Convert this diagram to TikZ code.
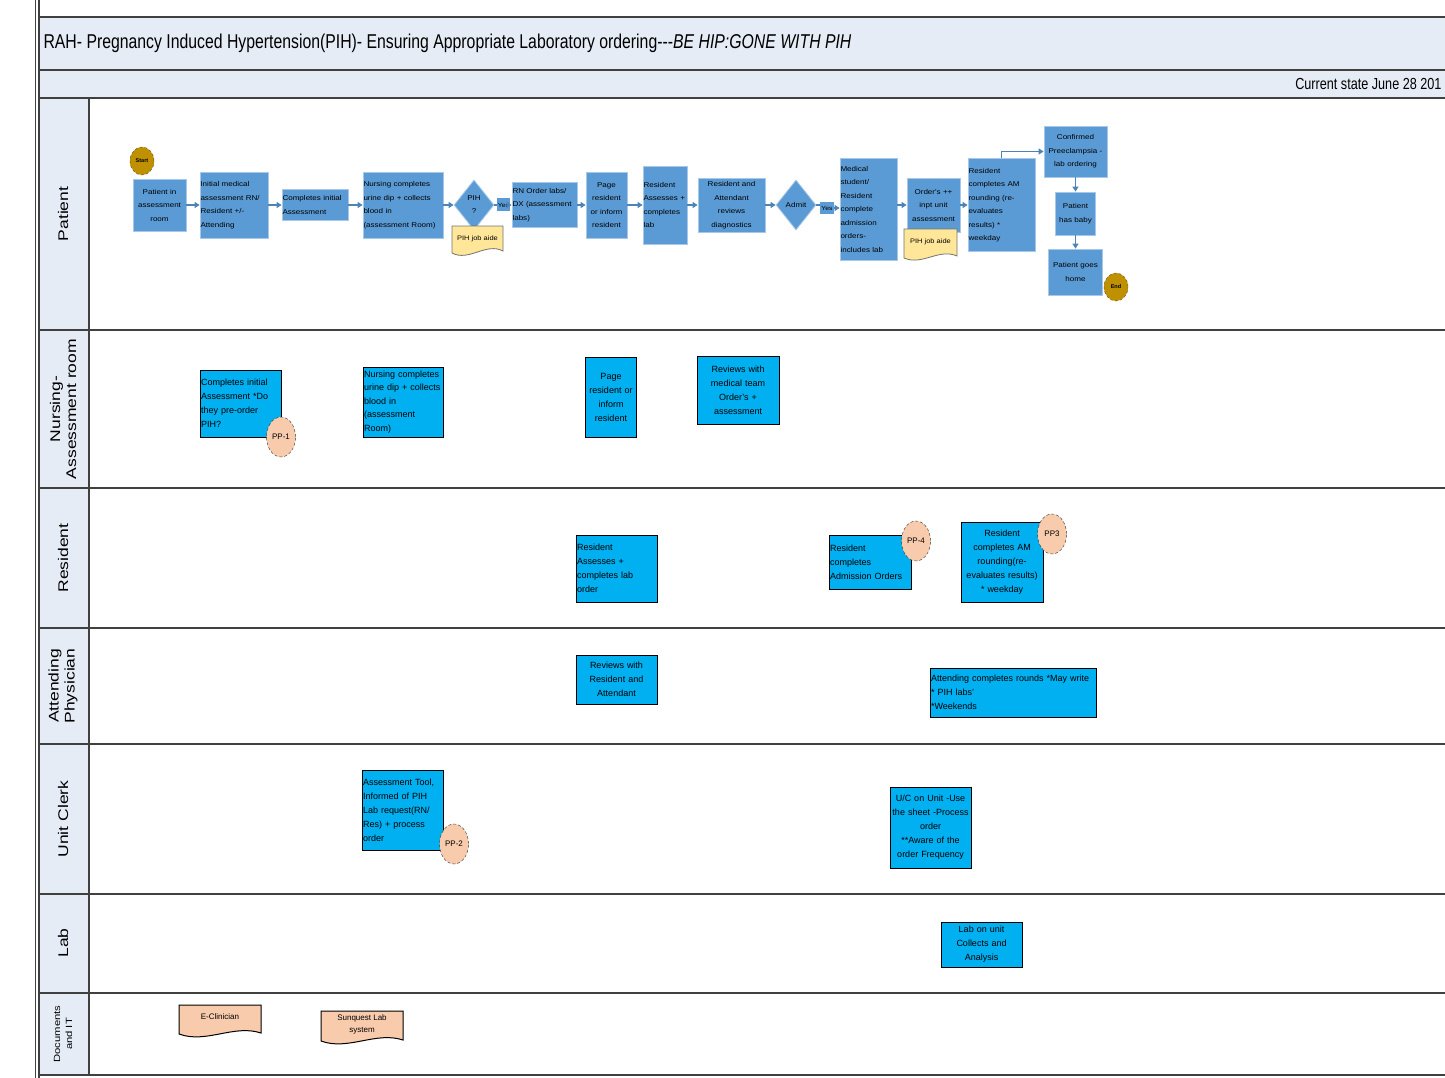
\documentclass[tikz,border=0pt]{standalone}
\usepackage{fontspec}
\setmainfont{Liberation Sans}
\newfontfamily\titlefont[FakeStretch=0.79]{Liberation Sans}
\newfontfamily\lanefont[FakeStretch=1.25]{Liberation Sans}
\newfontfamily\stepfont[FakeStretch=1.15]{Liberation Sans}
\usetikzlibrary{shapes.geometric,arrows.meta}
\definecolor{bandfill}{HTML}{E6ECF6}
\definecolor{stepblue}{HTML}{5B9BD5}
\definecolor{stepedge}{HTML}{A9C8E8}
\definecolor{taskcyan}{HTML}{00B0F0}
\definecolor{aidyellow}{HTML}{FFE699}
\definecolor{peach}{HTML}{F8CBAD}
\definecolor{gold}{HTML}{BF9000}
\definecolor{laneline}{HTML}{404040}

\begin{document}
\begin{tikzpicture}[x=1pt,y=-1pt,
  lane/.style={draw=laneline, line width=1.4pt},
  stepbox/.style={rectangle, draw=stepedge, line width=0.8pt, fill=stepblue, inner xsep=0.5pt, inner ysep=1pt, font=\stepfont\fontsize{7}{13.5}\selectfont},
  taskbox/.style={rectangle, draw=black, line width=1pt, fill=taskcyan, inner xsep=1pt, inner ysep=1pt, font=\fontsize{9}{14}\selectfont},
  choice/.style={diamond, draw=stepedge, line width=0.8pt, fill=stepblue, inner sep=0pt, minimum width=40pt, minimum height=50pt, align=center, font=\stepfont\fontsize{7}{13}\selectfont},
  yesbox/.style={rectangle, fill=stepblue, inner sep=0pt, minimum width=13pt, minimum height=13pt, font=\stepfont\fontsize{6}{7}\selectfont},
  terminal/.style={ellipse, draw=gold!60!black, densely dashed, fill=gold, inner sep=0pt, minimum width=24pt, minimum height=28pt, font=\bfseries\fontsize{5.5}{6}\selectfont},
  pp/.style={ellipse, draw=black!80, densely dashed, fill=peach, inner sep=0pt, minimum width=29pt, minimum height=40pt, font=\fontsize{8}{9}\selectfont},
  aidshape/.style={draw=black!55, line width=0.8pt, fill=aidyellow},
  docshape/.style={draw=black, line width=1pt, fill=peach},
  flow/.style={draw=stepblue!85!black, line width=1.3pt, -{Triangle[length=5pt,width=6pt]}},
  lanelabel/.style={rotate=90, align=center, font=\lanefont\fontsize{14}{16}\selectfont},
]
\useasboundingbox (0,0) rectangle (1445,1078);

\fill[bandfill] (38,17) rectangle (1445,98);
\fill[bandfill] (38,98) rectangle (89,1075);
\foreach \y in {17,70,98,330,488,628,744,894,993,1075}
  \draw[lane] (38,\y) -- (1445,\y);
\draw[lane] (89,98) -- (89,1075);
\draw[lane] (39,0) -- (39,1078);
\draw[draw=laneline, line width=0.8pt] (35,0) -- (35,1078);

\node[anchor=west, font=\titlefont\fontsize{20}{22}\selectfont] (title) at (40,43) {RAH- Pregnancy Induced Hypertension(PIH)- Ensuring Appropriate Laboratory ordering---\textit{BE HIP:GONE WITH PIH}};
\node[anchor=east, font=\titlefont\fontsize{16}{18}\selectfont] (state) at (1445,84) {Current state June 28 201};

\node[lanelabel] (patientlane) at (63,214) {Patient};
\node[lanelabel] (nurselane) at (63,409) {Nursing-\\Assessment room};
\node[lanelabel] (residentlane) at (63,558) {Resident};
\node[lanelabel] (attendlane) at (63,686) {Attending\\Physician};
\node[lanelabel] (clerklane) at (63,819) {Unit Clerk};
\node[lanelabel] (lablane) at (63,943) {Lab};
\node[lanelabel, font=\lanefont\fontsize{9}{12}\selectfont] (doclane) at (63,1034) {Documents\\and IT};

\node[stepbox, text width=52pt, minimum height=52pt, align=center] (p1) at (159.5,205) {Patient in\\assessment\\room};
\node[stepbox, text width=67pt, minimum height=66pt, align=left] (p2) at (234,205) {Initial medical\\assessment RN/\\Resident +/-\\Attending};
\node[stepbox, text width=65pt, minimum height=31pt, align=left] (p3) at (315,205) {Completes initial\\Assessment};
\node[stepbox, text width=79pt, minimum height=66pt, align=left] (p4) at (403,205) {Nursing completes\\urine dip + collects\\blood in\\(assessment Room)};
\node[choice] (pih) at (474,205) {PIH\\?};
\filldraw[aidshape] (452,226) -- (503,226) -- (503,251) .. controls (486,242) and (469,262) .. (452,253) -- cycle;
\node[font=\stepfont\fontsize{6.5}{8}\selectfont] (aid1) at (477.5,239) {PIH job aide};
\node[yesbox] (yes1) at (503.5,205) {Yes};
\node[stepbox, text width=64pt, minimum height=45pt, align=left] (p5) at (544.5,205) {RN Order labs/\\DX (assessment\\labs)};
\node[stepbox, text width=40pt, minimum height=66pt, align=center] (p6) at (606.5,205) {Page\\resident\\or inform\\resident};
\node[stepbox, text width=43pt, minimum height=78pt, align=left] (p7) at (665,205) {Resident\\Assesses +\\completes\\lab};
\node[stepbox, text width=66pt, minimum height=54pt, align=center] (p8) at (731.5,205) {Resident and\\Attendant\\reviews\\diagnostics};
\node[choice] (admit) at (796,205) {Admit};
\node[yesbox, minimum width=14pt, minimum height=12pt] (yes2) at (827,208) {Yes};
\node[stepbox, text width=56pt, minimum height=102pt, align=left] (p9) at (868.5,209) {Medical\\student/\\Resident\\complete\\admission\\orders-\\includes lab};
\node[stepbox, text width=52pt, minimum height=54pt, align=center] (p10) at (933.5,205) {Order's ++\\inpt unit\\assessment};
\filldraw[aidshape] (904,229) -- (957,229) -- (957,256) .. controls (939,248) and (922,266) .. (904,258) -- cycle;
\node[font=\stepfont\fontsize{6.5}{8}\selectfont] (aid2) at (930.5,242) {PIH job aide};
\node[stepbox, text width=66pt, minimum height=93pt, align=left] (p11) at (1001.5,205) {Resident\\completes AM\\rounding (re-\\evaluates\\results) {*}\\weekday};
\node[stepbox, text width=62pt, minimum height=51pt, align=center] (p12) at (1075.5,151.5) {Confirmed\\Preeclampsia -\\lab ordering};
\node[stepbox, text width=39pt, minimum height=43pt, align=center] (p13) at (1075.5,213.5) {Patient\\has baby};
\node[stepbox, text width=53pt, minimum height=46pt, align=center] (p14) at (1075.5,272) {Patient goes\\home};
\node[terminal] (start) at (142,161) {Start};
\node[terminal] (finish) at (1116,287) {End};

\draw[flow] (p1.east) -- (p1.east -| p2.west);
\draw[flow] (p2.east) -- (p2.east -| p3.west);
\draw[flow] (p3.east) -- (p3.east -| p4.west);
\draw[flow] (p4.east) -- (p4.east -| pih.west);
\draw[draw=stepblue!85!black, line width=1.3pt] (pih.east) -- (yes1.west);
\draw[flow] (yes1.east) -- (yes1.east -| p5.west);
\draw[flow] (p5.east) -- (p5.east -| p6.west);
\draw[flow] (p6.east) -- (p6.east -| p7.west);
\draw[flow] (p7.east) -- (p7.east -| p8.west);
\draw[flow] (p8.east) -- (p8.east -| admit.west);
\draw[draw=stepblue!85!black, line width=1.3pt] (admit.east) -- (admit.east -| yes2.west);
\draw[flow] (yes2.east) -- (yes2.east -| p9.west);
\draw[flow] (p9.east |- p10.west) -- (p10.west);
\draw[flow] (p10.east) -- (p10.east -| p11.west);
\draw[flow] (p11.north) |- (p12.west);
\draw[flow] (p12.south) -- (p12.south |- p13.north);
\draw[flow] (p13.south) -- (p13.south |- p14.north);

\node[taskbox, text width=79pt, minimum height=67pt, align=left] (n1) at (240.5,403.5) {Completes initial\\Assessment *Do\\they pre-order\\PIH?};
\node[pp] (pp1) at (281,437) {PP-1};
\node[taskbox, text width=78pt, minimum height=70pt, align=left, font=\fontsize{9}{13.5}\selectfont] (n2) at (403,402) {Nursing completes\\urine dip + collects\\blood in\\(assessment\\Room)};
\node[taskbox, text width=49pt, minimum height=80pt, align=center] (n3) at (611,397) {Page\\resident or\\inform\\resident};
\node[taskbox, text width=80pt, minimum height=68pt, align=center] (n4) at (738,390) {Reviews with\\medical team\\Order's +\\assessment};

\node[taskbox, text width=79pt, minimum height=67pt, align=left] (r1) at (616.5,568.5) {Resident\\Assesses +\\completes lab\\order};
\node[taskbox, text width=80pt, minimum height=54pt, align=left] (r2) at (870,562) {Resident\\completes\\Admission Orders};
\node[pp] (pp4) at (916,541) {PP-4};
\node[taskbox, text width=80pt, minimum height=80pt, align=center] (r3) at (1002,562) {Resident\\completes AM\\rounding(re-\\evaluates results)\\{*} weekday};
\node[pp] (pp3) at (1052,534) {PP3};

\node[taskbox, text width=79pt, minimum height=49pt, align=center] (a1) at (616.5,679.5) {Reviews with\\Resident and\\Attendant};
\node[taskbox, text width=164pt, minimum height=49pt, align=left] (a2) at (1013,692.5) {Attending completes rounds *May write\\{*} PIH labs'\\{*}Weekends};

\node[taskbox, text width=79pt, minimum height=80pt, align=left] (u1) at (402.5,810) {Assessment Tool,\\Informed of PIH\\Lab request(RN/\\Res) + process\\order};
\node[pp] (pp2) at (454,844) {PP-2};
\node[taskbox, text width=79pt, minimum height=81pt, align=center] (u2) at (930.5,827.5) {U/C on Unit -Use\\the sheet -Process\\order\\{**}Aware of the\\order Frequency};

\node[taskbox, text width=79pt, minimum height=45pt, align=center] (l1) at (981.5,944.5) {Lab on unit\\Collects and\\Analysis};

\filldraw[docshape] (179,1005) -- (261,1005) -- (261,1033) .. controls (234,1024) and (206,1044) .. (179,1034) -- cycle;
\node[font=\fontsize{8}{10}\selectfont] (eclin) at (220,1017) {E-Clinician};
\filldraw[docshape] (321,1011) -- (403,1011) -- (403,1040) .. controls (376,1031) and (348,1051) .. (321,1041) -- cycle;
\node[align=center, font=\fontsize{8}{12}\selectfont] (sunquest) at (362,1024) {Sunquest Lab\\system};
\end{tikzpicture}
\end{document}
